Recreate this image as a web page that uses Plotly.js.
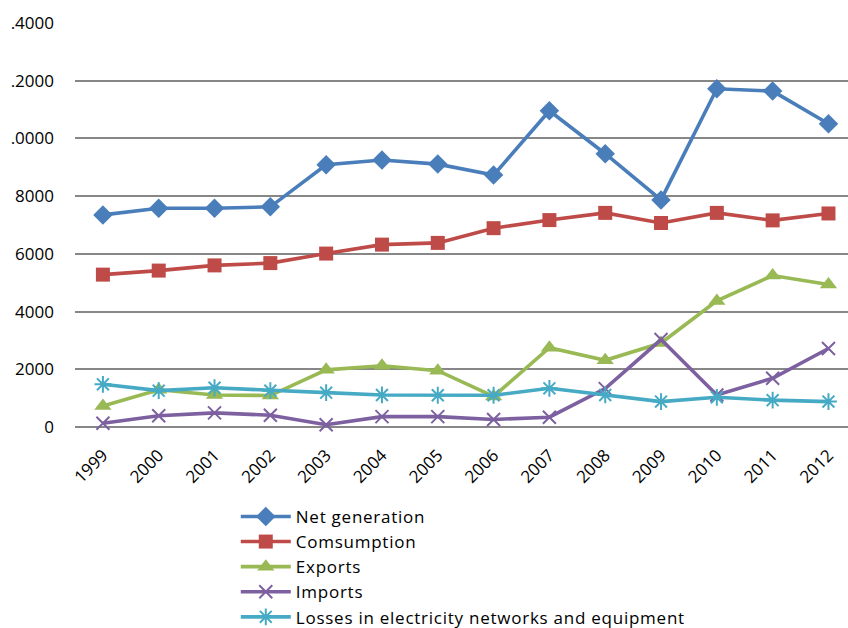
<!DOCTYPE html>
<html>
<head>
<meta charset="utf-8">
<script src="https://cdn.plot.ly/plotly-3.0.1.min.js"></script>
<style>
  html, body { margin: 0; padding: 0; background: #fff; }
  #chart { width: 848px; height: 628px; }
  /* a little extra tracking on the legend entries; let the wider text show */
  #chart .legendtext { letter-spacing: 0.75px; }
  #chart .legend .scrollbox, #chart .legend { clip-path: none !important; }
</style>
</head>
<body>
<div id="chart"></div>
<script>
// Electricity balance, 1999-2012
const years = ['1999','2000','2001','2002','2003','2004','2005','2006','2007','2008','2009','2010','2011','2012'];

const netGeneration = [7350, 7580, 7580, 7630, 9090, 9250, 9110, 8730, 10960, 9470, 7870, 11720, 11640, 10510];
const consumption   = [5280, 5420, 5600, 5680, 6010, 6320, 6380, 6890, 7170, 7420, 7070, 7420, 7160, 7400];
const exports_      = [730, 1290, 1110, 1090, 1980, 2120, 1950, 1060, 2750, 2310, 2910, 4370, 5250, 4940];
const imports_      = [130, 390, 490, 410, 80, 360, 360, 260, 340, 1330, 3030, 1110, 1690, 2720];
const losses        = [1480, 1260, 1360, 1260, 1190, 1110, 1100, 1100, 1340, 1110, 880, 1030, 930, 880];

const yTickVals  = [0, 2000, 4000, 6000, 8000, 10000, 12000, 14000];
const yTickText  = ['0', '2000', '4000', '6000', '8000', '.0000', '.2000', '.4000'];

const FONT = '"Open Sans", Lato, sans-serif';
const GRID = '#878787';

function series(name, y, color, symbol, size, open) {
  return {
    type: 'scatter',
    mode: 'lines+markers',
    name: name,
    x: years,
    y: y,
    line: { color: color, width: 3.6 },
    marker: open
      ? { symbol: symbol, size: size, color: color, line: { color: color, width: 2 } }
      : { symbol: symbol, size: size, color: color, line: { width: 0 } },
    cliponaxis: false
  };
}

const data = [
  series('Net generation', netGeneration, '#4A7EBB', 'diamond', 15, false),
  series('Comsumption', consumption, '#BE4B48', 'square', 14, false),
  series('Exports', exports_, '#98B954', 'triangle-up', 15, false),
  series('Imports', imports_, '#7D60A0', 'x-thin-open', 13, true),
  series('Losses in electricity networks and equipment', losses, '#46AAC5', 'asterisk-open', 14, true)
];

const layout = {
  width: 848,
  height: 628,
  margin: { l: 75, r: 0, t: 23, b: 201, autoexpand: false },
  paper_bgcolor: '#ffffff',
  plot_bgcolor: '#ffffff',
  showlegend: true,
  font: { family: FONT, size: 17, color: '#000000' },
  xaxis: {
    type: 'category',
    range: [-0.5, 13.35],
    tickangle: -45,
    showgrid: false,
    zeroline: false,
    showline: false,
    ticks: '',
    ticklabelstandoff: 14,
    tickfont: { family: FONT, size: 17, color: '#000' },
    fixedrange: true
  },
  yaxis: {
    range: [0, 14000],
    tickvals: yTickVals,
    ticktext: yTickText,
    showgrid: true,
    gridcolor: GRID,
    gridwidth: 2,
    zeroline: true,
    zerolinecolor: GRID,
    zerolinewidth: 2,
    showline: false,
    ticks: '',
    ticklabelstandoff: 20,
    tickfont: { family: FONT, size: 17, color: '#000' },
    fixedrange: true
  },
  legend: {
    orientation: 'v',
    x: 0.208,
    xanchor: 'left',
    y: -0.178,
    yanchor: 'top',
    bgcolor: 'rgba(0,0,0,0)',
    font: { family: FONT, size: 17, color: '#000' },
    itemwidth: 50,
    tracegroupgap: 0
  }
};

Plotly.newPlot('chart', data, layout, { displayModeBar: false, staticPlot: true });
</script>
</body>
</html>
